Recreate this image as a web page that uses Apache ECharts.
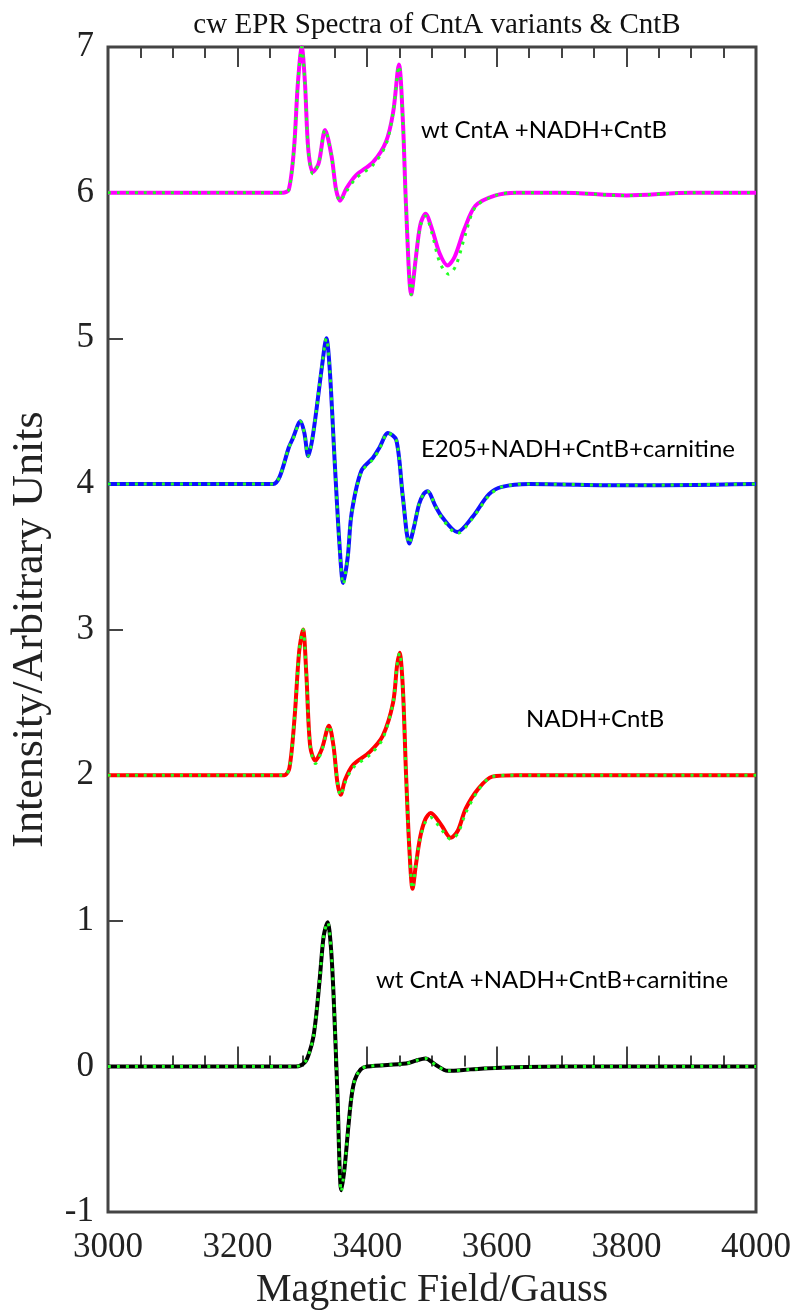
<!DOCTYPE html>
<html>
<head>
<meta charset="utf-8">
<style>
html, body { margin: 0; padding: 0; background: #fff; }
#container { width: 797px; height: 1315px; }
</style>
<script src="https://cdn.jsdelivr.net/npm/echarts@6/dist/echarts.min.js"></script>
</head>
<body>
<div id="container"></div>
<script>
var dom = document.getElementById("container");
var myChart = echarts.init(dom);

// field (Gauss), intensity pairs
var wtNadhCntB = [[3000,6],[3200,6],[3270,6],[3279,6.02],[3287,6.3],[3293,6.75],[3299,7.0],[3304,6.75],[3309,6.3],[3316,6.14],[3325,6.2],[3335,6.43],[3345,6.25],[3352,6.02],[3358,5.945],[3368,6.03],[3383,6.12],[3409,6.21],[3429,6.35],[3440,6.55],[3449,6.88],[3455,6.5],[3460,5.9],[3468,5.3],[3475,5.55],[3482,5.78],[3490,5.855],[3500,5.75],[3512,5.58],[3524,5.5],[3535,5.56],[3550,5.75],[3567,5.91],[3597,5.98],[3630,6.0],[3700,6.0],[3800,5.98],[3900,6.0],[4000,6.0]];
var wtNadhCntBSim = [[3000,6],[3200,6],[3270,6],[3279,6.02],[3287,6.3],[3293,6.75],[3299,7.0],[3304,6.75],[3309,6.3],[3316,6.13],[3325,6.2],[3335,6.43],[3345,6.25],[3352,6.02],[3358,5.94],[3368,6.01],[3383,6.1],[3409,6.19],[3429,6.33],[3440,6.55],[3449,6.87],[3455,6.5],[3460,5.9],[3468,5.3],[3475,5.55],[3482,5.77],[3490,5.84],[3500,5.72],[3512,5.52],[3526,5.44],[3537,5.5],[3552,5.72],[3567,5.9],[3597,5.98],[3630,6.0],[3700,6.0],[3800,5.98],[3900,6.0],[4000,6.0]];

var e205Carn = [[3000,4],[3200,4],[3255,4],[3265,4.05],[3279,4.25],[3285,4.31],[3297,4.43],[3303,4.35],[3309,4.19],[3315,4.3],[3322,4.52],[3330,4.8],[3337,5.0],[3342,4.8],[3350,4.14],[3357,3.6],[3363,3.32],[3370,3.5],[3376,3.8],[3391,4.09],[3409,4.18],[3419,4.25],[3432,4.35],[3445,4.3],[3455,3.91],[3465,3.59],[3472,3.7],[3480,3.86],[3487,3.93],[3493,3.95],[3505,3.85],[3516,3.77],[3539,3.67],[3562,3.77],[3588,3.93],[3608,3.98],[3650,4.0],[3800,3.99],[4000,4.0]];
var e205CarnSim = [[3000,4],[3200,4],[3255,4],[3265,4.05],[3279,4.25],[3285,4.3],[3297,4.43],[3303,4.35],[3309,4.19],[3315,4.3],[3322,4.52],[3330,4.8],[3337,5.0],[3342,4.8],[3350,4.14],[3357,3.6],[3363,3.31],[3370,3.5],[3376,3.8],[3391,4.08],[3409,4.17],[3419,4.24],[3432,4.35],[3445,4.3],[3455,3.91],[3465,3.59],[3472,3.7],[3480,3.86],[3487,3.93],[3493,3.95],[3505,3.85],[3516,3.76],[3539,3.66],[3562,3.76],[3588,3.92],[3608,3.98],[3650,4.0],[3800,3.99],[4000,4.0]];

var nadhCntB = [[3000,2],[3200,2],[3272,2],[3280,2.05],[3288,2.4],[3295,2.85],[3301,3.0],[3306,2.7],[3312,2.2],[3320,2.1],[3330,2.18],[3341,2.34],[3348,2.2],[3354,1.95],[3359,1.865],[3366,1.97],[3378,2.07],[3404,2.16],[3424,2.27],[3440,2.5],[3446,2.75],[3450,2.84],[3455,2.6],[3460,2.0],[3465,1.5],[3470,1.22],[3475,1.38],[3482,1.58],[3490,1.7],[3498,1.74],[3514,1.66],[3529,1.57],[3540,1.62],[3552,1.77],[3572,1.91],[3593,1.99],[3630,2.0],[4000,2.0]];
var nadhCntBSim = [[3000,2],[3200,2],[3272,2],[3280,2.05],[3288,2.4],[3295,2.85],[3301,3.0],[3306,2.7],[3312,2.2],[3320,2.08],[3330,2.17],[3341,2.34],[3348,2.2],[3354,1.95],[3359,1.86],[3366,1.95],[3378,2.05],[3404,2.14],[3424,2.25],[3440,2.5],[3446,2.75],[3450,2.84],[3455,2.6],[3460,2.0],[3465,1.5],[3470,1.22],[3475,1.38],[3482,1.57],[3490,1.68],[3498,1.71],[3514,1.63],[3529,1.56],[3540,1.6],[3552,1.74],[3572,1.9],[3593,1.99],[3630,2.0],[4000,2.0]];

var wtCarn = [[3000,0],[3200,0],[3290,0],[3304,0.03],[3311,0.1],[3317,0.205],[3322,0.38],[3327,0.614],[3333,0.9],[3339,0.99],[3344,0.82],[3348,0.5],[3354,-0.18],[3360,-0.85],[3365,-0.7],[3371,-0.41],[3376,-0.2],[3381,-0.09],[3390,-0.02],[3400,0.0],[3460,0.02],[3475,0.04],[3490,0.055],[3506,0.01],[3524,-0.03],[3560,-0.02],[3598,-0.01],[3700,0],[4000,0]];
var wtCarnSim = [[3000,0],[3200,0],[3290,0],[3304,0.03],[3311,0.1],[3317,0.205],[3322,0.38],[3327,0.614],[3333,0.9],[3339,0.99],[3344,0.82],[3348,0.5],[3354,-0.18],[3360,-0.86],[3365,-0.7],[3371,-0.41],[3376,-0.2],[3381,-0.09],[3390,-0.02],[3400,0.0],[3460,0.02],[3475,0.04],[3490,0.055],[3506,0.01],[3524,-0.03],[3560,-0.02],[3598,-0.01],[3700,0],[4000,0]];

var spectra = [
    { name: 'wt CntA +NADH+CntB', exp: wtNadhCntB, sim: wtNadhCntBSim, color: '#ff00ff' },
    { name: 'E205+NADH+CntB+carnitine', exp: e205Carn, sim: e205CarnSim, color: '#1010ff' },
    { name: 'NADH+CntB', exp: nadhCntB, sim: nadhCntBSim, color: '#ff0000' },
    { name: 'wt CntA +NADH+CntB+carnitine', exp: wtCarn, sim: wtCarnSim, color: '#000000' }
];

var seriesList = [];
spectra.forEach(function (s) {
    seriesList.push({
        type: 'line',
        name: s.name,
        data: s.exp,
        showSymbol: false,
        smooth: 0.3,
        lineStyle: { color: s.color, width: 4 },
        z: 2
    });
    seriesList.push({
        type: 'line',
        name: s.name + ' sim',
        data: s.sim,
        showSymbol: false,
        smooth: 0.3,
        lineStyle: { color: '#22ff22', width: 3, type: [3, 6] },
        z: 3
    });
});

var serif = 'Liberation Serif';
var tickColor = '#444';

var option = {
    animation: false,
    title: {
        text: 'cw EPR Spectra of CntA variants & CntB',
        left: 432,
        textAlign: 'center',
        top: 6,
        textStyle: { fontFamily: serif, fontWeight: 'normal', fontSize: 29, color: '#111' }
    },
    grid: {
        left: 103, right: 41, top: 47, bottom: 95,
        show: true, borderColor: tickColor, borderWidth: 3
    },
    xAxis: [{
        type: 'value',
        min: 3000, max: 4000, interval: 200,
        name: 'Magnetic Field/Gauss',
        nameLocation: 'middle',
        nameGap: 56,
        nameTextStyle: { fontFamily: serif, fontSize: 40, color: '#222' },
        axisLine: { show: false },
        axisTick: { inside: true, length: 20, lineStyle: { color: tickColor, width: 2 } },
        minorTick: { show: true, splitNumber: 4, length: 11, lineStyle: { color: tickColor, width: 2 } },
        axisLabel: { fontFamily: serif, fontSize: 35, color: '#222', margin: 18, formatter: function (v) { return String(v); } },
        splitLine: { show: false }
    }, {
        type: 'value',
        position: 'top',
        min: 3000, max: 4000, interval: 200,
        axisLine: { show: false },
        axisTick: { inside: true, length: 20, lineStyle: { color: tickColor, width: 2 } },
        minorTick: { show: true, splitNumber: 4, length: 11, lineStyle: { color: tickColor, width: 2 } },
        axisLabel: { show: false },
        splitLine: { show: false }
    }],
    yAxis: {
        type: 'value',
        min: -1, max: 7, interval: 1,
        name: 'Intensity/Arbitrary Units',
        nameLocation: 'middle',
        nameGap: 56,
        nameTextStyle: { fontFamily: serif, fontSize: 44, color: '#222' },
        axisLine: { show: false },
        axisTick: { inside: true, length: 15, lineStyle: { color: tickColor, width: 2 } },
        axisLabel: { fontFamily: serif, fontSize: 35, color: '#222', margin: 14 },
        splitLine: { show: false }
    },
    graphic: [
        { type: 'text', left: 421, top: 118, style: { text: 'wt CntA +NADH+CntB', font: '24px Lato', fill: '#000' } },
        { type: 'text', left: 421, top: 437, style: { text: 'E205+NADH+CntB+carnitine', font: '24px Lato', fill: '#000' } },
        { type: 'text', left: 526, top: 707, style: { text: 'NADH+CntB', font: '24px Lato', fill: '#000' } },
        { type: 'text', left: 376, top: 968, style: { text: 'wt CntA +NADH+CntB+carnitine', font: '24px Lato', fill: '#000' } }
    ],
    series: seriesList
};

myChart.setOption(option);
</script>
</body>
</html>
